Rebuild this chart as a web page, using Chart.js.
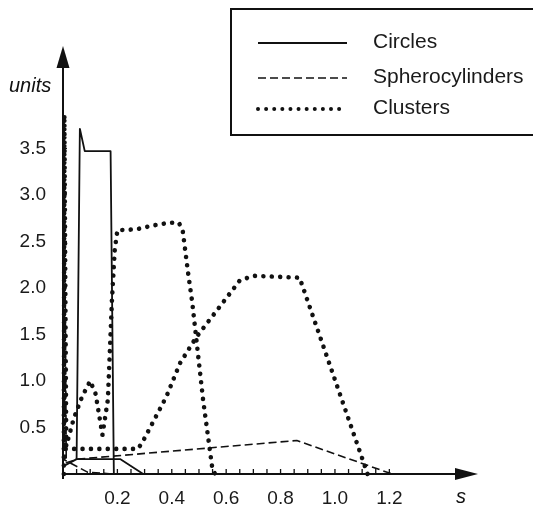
<!DOCTYPE html>
<html>
<head>
<meta charset="utf-8">
<script src="https://cdn.jsdelivr.net/npm/chart.js@4/dist/chart.umd.min.js"></script>
<style>
  body { margin: 0; background: #fff; }
  canvas { display: block; }
</style>
</head>
<body>
<canvas id="graph" width="533" height="511"></canvas>
<script>
// values (s along x, units along y)
const circlesPeakS = [0.05, 0.062, 0.08, 0.175, 0.187];
const circlesPeakU = [0.16, 3.71, 3.47, 3.47, 0.0];
const circlesBaseS = [0.0, 0.05, 0.21, 0.295];
const circlesBaseU = [0.08, 0.16, 0.16, 0.0];

const sphereS = [0.18, 0.09, 0.006, 0.004, 0.012, 0.055, 0.86, 1.21];
const sphereU = [0.0, 0.02, 0.15, 3.8, 0.12, 0.16, 0.36, 0.0];

const clustersAS = [0.003, 0.005, 0.012, 0.04, 0.07, 0.1, 0.12, 0.145, 0.165, 0.18, 0.19, 0.2, 0.27, 0.33, 0.39, 0.426, 0.44, 0.46, 0.475, 0.515, 0.55, 0.56];
const clustersAU = [0.0, 3.86, 0.3, 0.6, 0.83, 1.0, 0.86, 0.42, 0.8, 1.87, 2.4, 2.62, 2.63, 2.67, 2.7, 2.7, 2.62, 2.16, 1.85, 0.8, 0.04, 0.0];
const clustersBS = [0.01, 0.275, 0.29, 0.38, 0.43, 0.49, 0.59, 0.65, 0.7, 0.87, 1.12];
const clustersBU = [0.27, 0.27, 0.33, 0.83, 1.19, 1.47, 1.85, 2.08, 2.13, 2.11, 0.0];

const xTickLabels = [0.2, 0.4, 0.6, 0.8, 1.0, 1.2];
const yTickLabels = [0.5, 1.0, 1.5, 2.0, 2.5, 3.0, 3.5];
const legendNames = ["Circles", "Spherocylinders", "Clusters"];

const FONT = "'Liberation Sans', Arial, sans-serif";
const INK = "#111";

function toPoints(xs, ys) {
    return xs.map((x, i) => ({ x: x, y: ys[i] }));
}

const solid = { borderColor: INK, borderWidth: 1.8, borderDash: [] };
const dashed = { borderColor: INK, borderWidth: 1.6, borderDash: [8, 4] };
const dotted = { borderColor: INK, borderWidth: 4.6, borderDash: [0.01, 8.4], borderCapStyle: "round" };

function line(data, style) {
    return Object.assign({
        data: data,
        showLine: true,
        pointRadius: 0,
        tension: 0,
        clip: false,
        borderJoinStyle: "round"
    }, style);
}

// axes with arrows, small ticks, axis names and the boxed legend
const decorations = {
    id: "decorations",
    afterDatasetsDraw(chart) {
        const ctx = chart.ctx;
        const xs = chart.scales.x;
        const ys = chart.scales.y;
        const x0 = xs.getPixelForValue(0);
        const y0 = ys.getPixelForValue(0);
        const right = chart.chartArea.right;
        const top = chart.chartArea.top;

        ctx.save();
        ctx.strokeStyle = INK;
        ctx.fillStyle = INK;
        ctx.lineWidth = 2;
        ctx.setLineDash([]);

        // axis lines
        ctx.beginPath();
        ctx.moveTo(x0, y0 + 5);
        ctx.lineTo(x0, top + 18);
        ctx.moveTo(x0, y0);
        ctx.lineTo(right - 20, y0);
        ctx.stroke();

        // arrow heads
        ctx.beginPath();
        ctx.moveTo(x0, top);
        ctx.lineTo(x0 - 6.5, top + 22);
        ctx.lineTo(x0 + 6.5, top + 22);
        ctx.closePath();
        ctx.fill();
        ctx.beginPath();
        ctx.moveTo(right, y0);
        ctx.lineTo(right - 23, y0 - 6);
        ctx.lineTo(right - 23, y0 + 6);
        ctx.closePath();
        ctx.fill();

        // small ticks
        ctx.lineWidth = 1.3;
        ctx.beginPath();
        for (let k = 1; k <= 24; k++) {
            const px = xs.getPixelForValue(k * 0.05);
            ctx.moveTo(px, y0);
            ctx.lineTo(px, y0 - 5);
        }
        for (let k = 1; k <= 7; k++) {
            const py = ys.getPixelForValue(k * 0.5);
            ctx.moveTo(x0, py);
            ctx.lineTo(x0 + 4, py);
        }
        ctx.stroke();

        // axis names
        ctx.font = "italic 20px " + FONT;
        ctx.textBaseline = "middle";
        ctx.textAlign = "left";
        ctx.fillText("units", 9, 86);
        ctx.fillText("s", 456, 497);

        // legend
        const lx0 = 258, lx1 = 347, tx = 373;
        const rows = [43, 78, 109];
        const styles = [solid, dashed, dotted];
        ctx.lineWidth = 2;
        ctx.strokeRect(231, 9, 320, 126);
        rows.forEach((ry, i) => {
            const st = styles[i];
            ctx.lineWidth = i === 2 ? 4 : st.borderWidth;
            ctx.setLineDash(i === 2 ? [0.01, 8.1] : st.borderDash);
            ctx.lineCap = st.borderCapStyle || "butt";
            ctx.beginPath();
            ctx.moveTo(lx0, ry);
            ctx.lineTo(lx1, ry);
            ctx.stroke();
        });
        ctx.setLineDash([]);
        ctx.font = "21px " + FONT;
        ctx.textBaseline = "alphabetic";
        ctx.fillStyle = "#1a1a1a";
        ctx.fillText(legendNames[0], tx, 48);
        ctx.fillText(legendNames[1], tx, 83);
        ctx.fillText(legendNames[2], tx, 114);
        ctx.restore();
    }
};

const ctx = document.getElementById("graph").getContext("2d");
new Chart(ctx, {
    type: "scatter",
    data: {
        datasets: [
            line(toPoints(circlesPeakS, circlesPeakU), solid),
            line(toPoints(circlesBaseS, circlesBaseU), solid),
            line(toPoints(sphereS, sphereU), dashed),
            line(toPoints(clustersAS, clustersAU), dotted),
            line(toPoints(clustersBS, clustersBU), dotted)
        ]
    },
    options: {
        responsive: false,
        animation: false,
        layout: { padding: { left: 0, right: 55, top: 46, bottom: 0 } },
        plugins: {
            legend: { display: false },
            tooltip: { enabled: false }
        },
        scales: {
            x: {
                type: "linear",
                min: 0,
                max: 1.526,
                afterFit: (scale) => { scale.height = 37; },
                grid: { display: false, drawTicks: false },
                border: { display: false },
                afterBuildTicks: (scale) => {
                    scale.ticks = xTickLabels.map(v => ({ value: v }));
                },
                ticks: {
                    padding: 13,
                    color: "#1a1a1a",
                    font: { family: FONT, size: 19 },
                    callback: (v) => v.toFixed(1)
                }
            },
            y: {
                type: "linear",
                min: 0,
                max: 4.6,
                afterFit: (scale) => { scale.width = 63; },
                grid: { display: false, drawTicks: false },
                border: { display: false },
                afterBuildTicks: (scale) => {
                    scale.ticks = yTickLabels.map(v => ({ value: v }));
                },
                ticks: {
                    padding: 17,
                    color: "#1a1a1a",
                    font: { family: FONT, size: 19 },
                    callback: (v) => v.toFixed(1)
                }
            }
        }
    },
    plugins: [decorations]
});
</script>
</body>
</html>
